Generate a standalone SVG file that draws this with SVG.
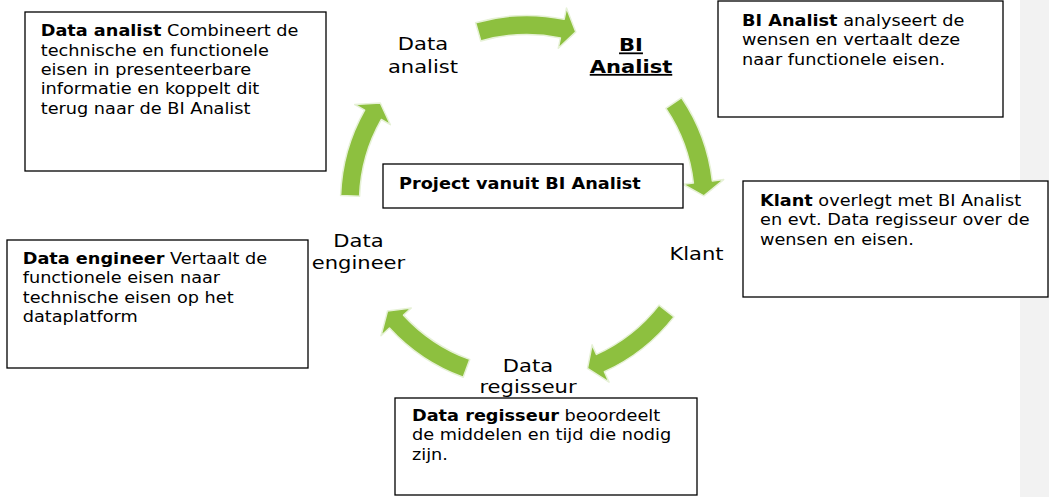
<svg xmlns="http://www.w3.org/2000/svg" xmlns:xlink="http://www.w3.org/1999/xlink" width="1049" height="497" viewBox="0 0 1049 497">
<style>
.box{fill:#ffffff;stroke:#000000;stroke-width:1.3}
.t{font-family:"DejaVu Sans",Verdana,sans-serif;font-size:15px;fill:#000000}
.b{font-weight:bold}
.lbl{font-family:"DejaVu Sans",Verdana,sans-serif;font-size:18px;fill:#000000;text-anchor:middle}
.arrow{fill:#8dc03f;stroke:#e6f1d6;stroke-width:1.5;stroke-linejoin:round}
</style>
<defs>
<path id="arr" d="M -51.4 -179.3 A 186.5 186.5 0 0 1 37.2 -182.8 L 39.5 -194.0 L 48.8 -170.1 L 31.3 -153.8 L 33.4 -164.1 A 167.5 167.5 0 0 0 -46.2 -161.0 Z"/>
</defs>
<rect x="1020" y="0" width="29" height="497" fill="#f2f2f2"/>
<g id="connectors">
<use xlink:href="#arr" class="arrow" transform="translate(527,202) rotate(0)"/>
<use xlink:href="#arr" class="arrow" transform="translate(527,202) rotate(72)"/>
<use xlink:href="#arr" class="arrow" transform="translate(527,202) rotate(144)"/>
<use xlink:href="#arr" class="arrow" transform="translate(527,202) rotate(216)"/>
<use xlink:href="#arr" class="arrow" transform="translate(527,202) rotate(288)"/>
</g>
<g id="node-data-analist">
<rect class="box" x="25" y="12" width="301" height="159"/>
<text class="t" transform="matrix(1.18,0,0,1,40.7,0)"><tspan x="0" y="36.5"><tspan class="b">Data analist</tspan> Combineert de</tspan><tspan x="0" y="55.8">technische en functionele</tspan><tspan x="0" y="75.1">eisen in presenteerbare</tspan><tspan x="0" y="94.4">informatie en koppelt dit</tspan><tspan x="0" y="113.7">terug naar de BI Analist</tspan></text>
<text class="lbl" transform="matrix(1.17,0,0,1,423,0)"><tspan x="0" y="50.5">Data</tspan><tspan x="0" y="73">analist</tspan></text>
</g>
<g id="node-bi-analist">
<rect class="box" x="718" y="1" width="285" height="116"/>
<text class="t" transform="matrix(1.18,0,0,1,742,0)"><tspan x="0" y="26"><tspan class="b">BI Analist</tspan> analyseert de</tspan><tspan x="0" y="45.3">wensen en vertaalt deze</tspan><tspan x="0" y="64.6">naar functionele eisen.</tspan></text>
<text class="lbl b" text-decoration="underline" transform="matrix(1.17,0,0,1,631,0)"><tspan x="0" y="51.5">BI</tspan><tspan x="0" y="73">Analist</tspan></text>
</g>
<g id="node-klant">
<rect class="box" x="743" y="181" width="305" height="116"/>
<text class="t" transform="matrix(1.18,0,0,1,760,0)"><tspan x="0" y="206"><tspan class="b">Klant</tspan> overlegt met BI Analist</tspan><tspan x="0" y="225.3">en evt. Data regisseur over de</tspan><tspan x="0" y="244.6">wensen en eisen.</tspan></text>
<text class="lbl" transform="matrix(1.17,0,0,1,696.5,0)"><tspan x="0" y="260">Klant</tspan></text>
</g>
<g id="node-data-regisseur">
<rect class="box" x="395" y="398" width="302" height="97"/>
<text class="t" transform="matrix(1.18,0,0,1,412,0)"><tspan x="0" y="421"><tspan class="b">Data regisseur</tspan> beoordeelt</tspan><tspan x="0" y="440.3">de middelen en tijd die nodig</tspan><tspan x="0" y="459.6">zijn.</tspan></text>
<text class="lbl" transform="matrix(1.17,0,0,1,528,0)"><tspan x="0" y="372">Data</tspan><tspan x="0" y="393">regisseur</tspan></text>
</g>
<g id="node-data-engineer">
<rect class="box" x="7" y="240" width="301" height="128"/>
<text class="t" transform="matrix(1.18,0,0,1,22.7,0)"><tspan x="0" y="264"><tspan class="b">Data engineer</tspan> Vertaalt de</tspan><tspan x="0" y="283.3">functionele eisen naar</tspan><tspan x="0" y="302.6">technische eisen op het</tspan><tspan x="0" y="321.9">dataplatform</tspan></text>
<text class="lbl" transform="matrix(1.17,0,0,1,358.5,0)"><tspan x="0" y="247">Data</tspan><tspan x="0" y="269">engineer</tspan></text>
</g>
<g id="node-project">
<rect class="box" x="383" y="164" width="300" height="44"/>
<text class="t b" transform="matrix(1.18,0,0,1,399,0)"><tspan x="0" y="189.5">Project vanuit BI Analist</tspan></text>
</g>
</svg>
